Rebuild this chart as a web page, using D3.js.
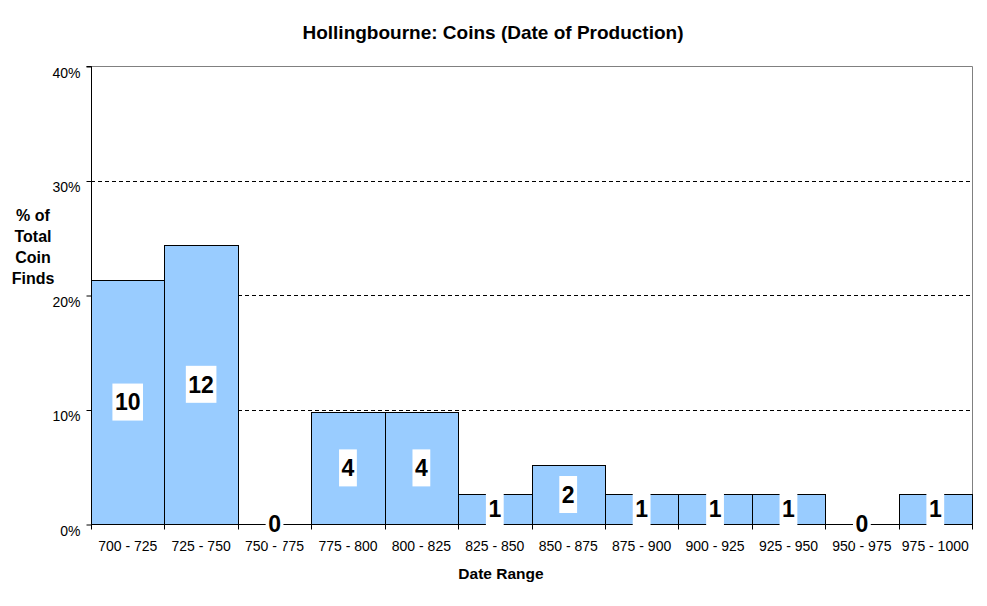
<!DOCTYPE html>
<html><head><meta charset="utf-8">
<script src="https://cdn.jsdelivr.net/npm/d3@7"></script>
<style>
body{margin:0;background:#fff;}
text{font-family:"Liberation Sans",Arial,sans-serif;}
</style></head>
<body>
<svg id="c" width="987" height="606"></svg>
<script>
const categories = ["700 - 725","725 - 750","750 - 775","775 - 800","800 - 825","825 - 850","850 - 875","875 - 900","900 - 925","925 - 950","950 - 975","975 - 1000"];
const percents = [0.213,0.244,0,0.098,0.098,0.026,0.0515,0.026,0.026,0.026,0,0.026];
const counts = [10,12,0,4,4,1,2,1,1,1,0,1];
const yTicks = [0,0.1,0.2,0.3,0.4];
const title = "Hollingbourne: Coins (Date of Production)";
const yTitle = ["% of","Total","Coin","Finds"];
const xTitle = "Date Range";

const svg = d3.select("#c");
const L=91,R=972,T=66,B=524;
const x = d3.scaleBand().domain(categories).range([L,R]).padding(0);
const y = d3.scaleLinear().domain([0,0.4]).range([B,T]);

svg.append("rect").attr("width",987).attr("height",606).attr("fill","#fff");

// plot border (top/right gray)
svg.append("path").attr("d",`M${L},${T+0.5}H${R+0.5}V${B}`).attr("fill","none").attr("stroke","#808080").attr("stroke-width",1);

// gridlines
svg.append("g").selectAll("line").data(yTicks.filter(v=>v>0&&v<0.4)).join("line")
  .attr("x1",L).attr("x2",R).attr("y1",d=>Math.round(y(d))+0.5).attr("y2",d=>Math.round(y(d))+0.5)
  .attr("stroke","#000").attr("stroke-dasharray","4,3");

// bars
svg.append("g").selectAll("rect").data(categories).join("rect")
  .attr("x",d=>Math.round(x(d))+0.5)
  .attr("y",(d,i)=>Math.round(y(percents[i]))+0.5)
  .attr("width",d=>Math.round(x(d)+x.bandwidth())-Math.round(x(d)))
  .attr("height",(d,i)=>B-Math.round(y(percents[i])))
  .attr("fill","#99ccff").attr("stroke","#000").attr("stroke-width",1);

// y axis
const ya = d3.axisLeft(y).tickValues(yTicks).tickFormat(d3.format(".0%")).tickSize(5).tickPadding(6);
const gy = svg.append("g").attr("transform",`translate(${L+0.5},0.5)`).call(ya);
gy.select(".domain").attr("stroke","#000").attr("d",`M-5,${T}H0V${B}`);
gy.selectAll("text").attr("font-family","Liberation Sans, Arial, sans-serif").attr("font-size",14).attr("fill","#000").attr("dy","0.75em");

// x axis
const xa = d3.axisBottom(x).tickSize(0).tickPadding(17);
const gx = svg.append("g").attr("transform",`translate(0,${B+0.5})`).call(xa);
gx.select(".domain").attr("stroke","#000").attr("d",`M${L},0H${R+0.5}`);
gx.selectAll("text").attr("font-family","Liberation Sans, Arial, sans-serif").attr("font-size",14).attr("fill","#000");
const bounds = categories.map(c=>x(c)).concat([R]);
gx.append("g").selectAll("line").data(bounds).join("line")
  .attr("x1",d=>Math.round(d)+0.5).attr("x2",d=>Math.round(d)+0.5).attr("y1",0).attr("y2",5).attr("stroke","#000");

// data labels
const lg = svg.append("g");
categories.forEach((c,i)=>{
  const cx = x(c)+x.bandwidth()/2;
  const cy = (y(percents[i])+B)/2;
  const g = lg.append("g");
  const r = g.append("rect").attr("fill","#fff");
  const t = g.append("text").attr("x",cx).attr("y",cy).attr("text-anchor","middle").attr("dy","0.36em")
    .attr("font-size",23).attr("font-weight","bold").attr("fill","#000").text(counts[i]);
  const w = t.node().getComputedTextLength()+5;
  r.attr("x",cx-w/2).attr("y",cy-18.5).attr("width",w).attr("height",37);
});

// titles
svg.append("text").attr("x",493).attr("y",39).attr("text-anchor","middle").attr("font-size",19).attr("font-weight","bold").text(title);
svg.append("text").attr("x",501).attr("y",579).attr("text-anchor","middle").attr("font-size",15.5).attr("font-weight","bold").text(xTitle);
yTitle.forEach((s,i)=>{
  svg.append("text").attr("x",33).attr("y",221+i*21).attr("text-anchor","middle").attr("font-size",16).attr("font-weight","bold").text(s);
});
</script>
</body></html>
